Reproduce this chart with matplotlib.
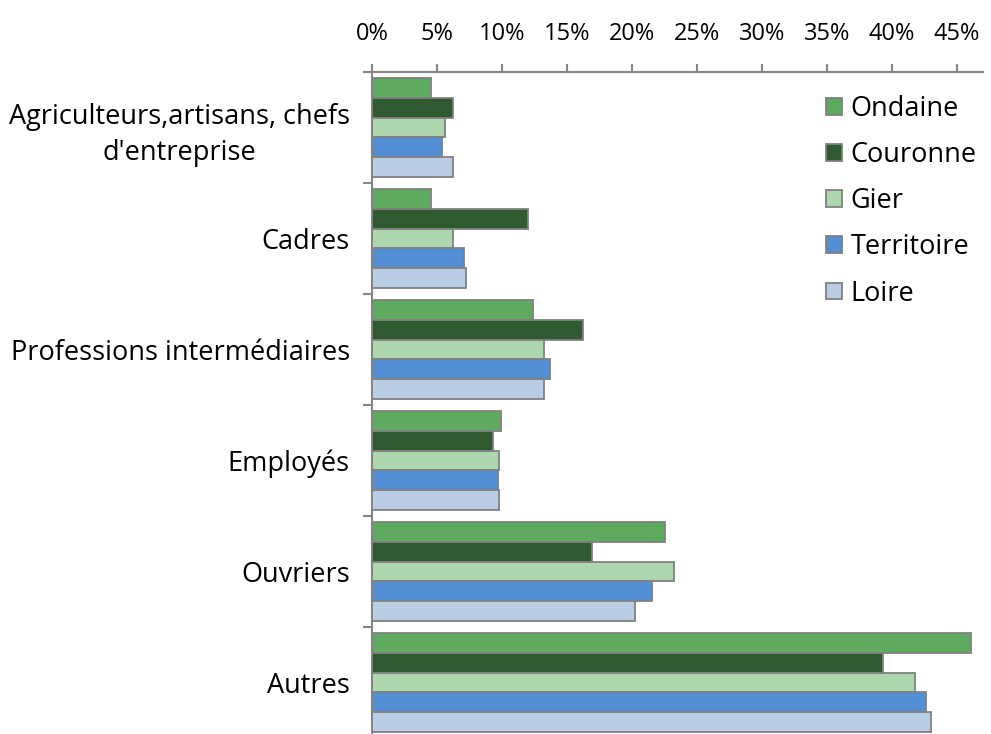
import numpy as np
import matplotlib
matplotlib.use("Agg")
import matplotlib.pyplot as plt
from matplotlib.patches import Patch
from matplotlib.ticker import FuncFormatter

plt.rcParams['font.family'] = ['Open Sans', 'DejaVu Sans']

# categories, top to bottom
categories = [
    "Agriculteurs,artisans, chefs\nd'entreprise",
    "Cadres",
    "Professions intermédiaires",
    "Employés",
    "Ouvriers",
    "Autres",
]
series = ["Ondaine", "Couronne", "Gier", "Territoire", "Loire"]
colors = ["#5EAA5F", "#2D5A2E", "#ADD7AD", "#528FD5", "#B9CDE5"]

# shares (fraction) per series, in category order
ondaine = [0.045, 0.045, 0.124, 0.099, 0.225, 0.461]
couronne = [0.062, 0.120, 0.162, 0.093, 0.169, 0.393]
gier = [0.056, 0.062, 0.132, 0.098, 0.232, 0.418]
territoire = [0.054, 0.071, 0.137, 0.097, 0.215, 0.426]
loire = [0.062, 0.072, 0.132, 0.098, 0.202, 0.430]
values = [ondaine, couronne, gier, territoire, loire]

W, H = 991, 734
fig = plt.figure(figsize=(W / 100, H / 100), dpi=100)
ax = fig.add_axes([372 / W, -4 / H, (983 - 372) / W, 666 / H])

y = np.arange(len(categories))
bh = 0.179
for j, (name, vals, c) in enumerate(zip(series, values, colors)):
    ax.barh(y + (j - 2) * bh, vals, height=bh, color=c, edgecolor="#808080",
            linewidth=1.3, label=name, zorder=3)

ax.set_xlim(0, 0.47)
ax.set_ylim(len(categories) - 0.5, -0.5)

grey = "#868686"
for s in ["right", "bottom"]:
    ax.spines[s].set_visible(False)
for s in ["left", "top"]:
    ax.spines[s].set_color(grey)
    ax.spines[s].set_linewidth(1.5)

fs = 19.5
ax.xaxis.tick_top()
ax.set_xticks(np.arange(0, 0.46, 0.05))
ax.xaxis.set_major_formatter(FuncFormatter(lambda v, p: f"{round(v * 100)}%"))
ax.tick_params(axis="x", length=6, width=1.5, color=grey, pad=13, labelsize=17)

ax.set_yticks(np.arange(len(categories) + 1) - 0.5, minor=False)
ax.set_yticklabels([])
ax.set_yticks(y, minor=True)
ax.set_yticklabels(categories, minor=True, multialignment="center", linespacing=1.4)
ax.tick_params(axis="y", which="major", length=6.5, width=1.5, color=grey)
ax.tick_params(axis="y", which="minor", length=0, pad=16, labelsize=fs)

handles = [Patch(facecolor=c, edgecolor="#808080", linewidth=1.3, label=n)
           for n, c in zip(series, colors)]
ax.legend(handles=handles, loc="upper left", bbox_to_anchor=(826 / W, 1 - 95 / H),
          bbox_transform=fig.transFigure, frameon=False, fontsize=fs,
          handlelength=0.58, handleheight=0.58, handletextpad=0.33, labelspacing=0.67,
          borderpad=0, borderaxespad=0)

fig.savefig("out.png", dpi=100)
